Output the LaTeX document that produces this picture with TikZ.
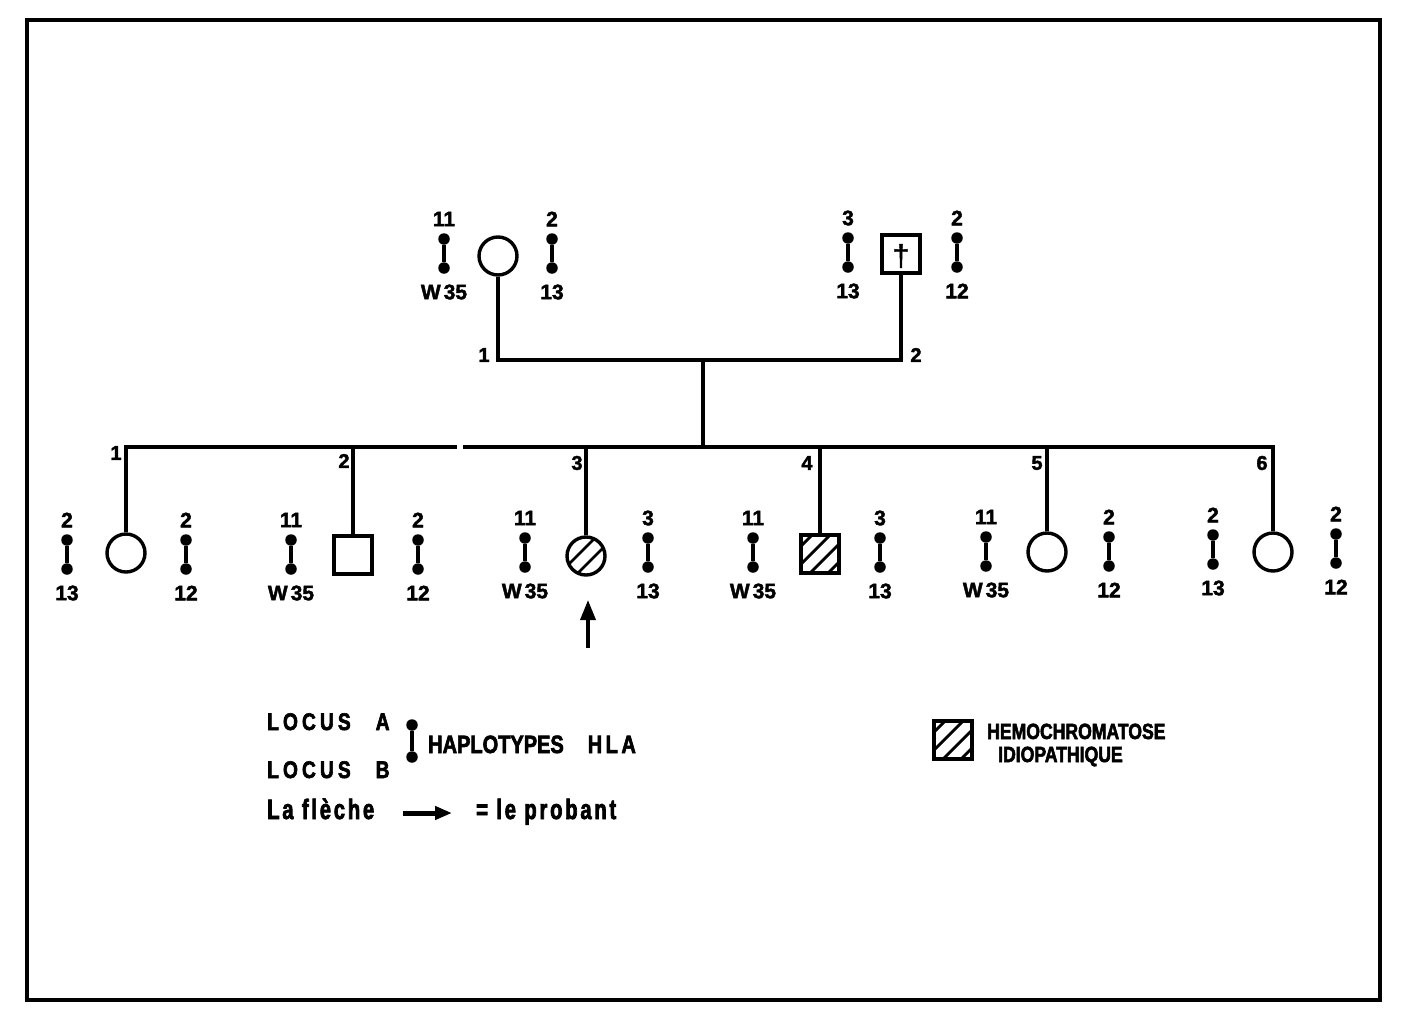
\documentclass[tikz,border=0pt]{standalone}
\usepackage{fontspec}
\setmainfont{Liberation Sans}
\newfontfamily\pedfont{Liberation Sans Bold}[FakeBold=2]
\newfontfamily\dagfont{Liberation Sans}[FakeBold=1.5]
\newfontfamily\legfont{Liberation Sans Bold}[FakeStretch=0.8,FakeBold=2.5]
\newfontfamily\lspfont{Liberation Sans Bold}[FakeStretch=0.8,LetterSpace=17,FakeBold=2.5]
\newfontfamily\hlafont{Liberation Sans Bold}[FakeStretch=0.8,LetterSpace=14,FakeBold=2.5]
\newfontfamily\lowfont{Liberation Sans Bold}[FakeStretch=0.72,LetterSpace=10,FakeBold=2.5]
\usetikzlibrary{arrows.meta}
\tikzset{
  ln/.style={line width=3.4pt},
  fem/.style={circle,draw,line width=3.4pt,minimum size=38pt,inner sep=0pt},
  mal/.style={rectangle,draw,line width=3.4pt,minimum size=38pt,inner sep=0pt},
  dot/.style={circle,fill,minimum size=11.5pt,inner sep=0pt},
  hl/.style={font=\pedfont\fontsize{21}{21}\selectfont,inner sep=0pt},
  gen/.style={font=\pedfont\fontsize{20}{20}\selectfont,inner sep=0pt},
  hatch/.style={path picture={
      \foreach \c in {-27,-9,9,27}
        \draw[line width=2.8pt] ([shift={(\c-40,40)}]path picture bounding box.center)
          -- ([shift={(\c+40,-40)}]path picture bounding box.center);}},
}
\newcommand\hap[5]{%
  \node[dot] (#1a) at (#2,#3) {};
  \node[dot] (#1b) at (#2,#3+29) {};
  \draw[line width=3.2pt] (#1a) -- (#1b);
  \node[hl] (#1t) at (#2,#3-20) {#4};
  \node[hl] (#1u) at (#2,#3+53) {#5};
}
\newcommand\wtf{W\kern3pt 35}
\begin{document}
\begin{tikzpicture}[x=1pt,y=-1pt]
\useasboundingbox (0,0) rectangle (1404,1020);
\draw[line width=4pt] (27,20) rectangle (1380,1000);

% generation I
\node[fem] (m) at (498,256) {};
\node[mal] (f) at (901,254) {};
\node[font=\dagfont\fontsize{30}{30}\selectfont,inner sep=0pt] (dag) at (901,256) {†};
\hap{ma}{444}{239}{11}{\wtf}
\hap{mb}{552}{239}{2}{13}
\hap{fa}{848}{238}{3}{13}
\hap{fb}{957}{238}{2}{12}
\coordinate (cp) at (703,360);
\draw[ln] (m.south) |- (cp) -| (f.south);
\node[gen] (g1) at (484,355) {1};
\node[gen] (g2) at (916,355) {2};

% generation II
\node[fem] (c1) at (126,553) {};
\node[mal] (c2) at (353,555) {};
\node[fem,hatch] (c3) at (586,556) {};
\node[mal,hatch] (c4) at (820,554) {};
\node[fem] (c5) at (1047,552) {};
\node[fem] (c6) at (1273,552) {};
\coordinate (sib) at (703,447);
\coordinate (gapL) at (457,447);
\coordinate (gapR) at (463,447);
\draw[ln] (cp) -- (sib);
\draw[ln] (c1.north) |- (gapL);
\draw[ln] (gapR) -| (c6.north);
\foreach \n in {c2,c3,c4,c5} \draw[ln] (\n.north) -- (\n.north |- sib);
\node[gen] (n1) at (116,453) {1};
\node[gen] (n2) at (344,461) {2};
\node[gen] (n3) at (577,463) {3};
\node[gen] (n4) at (807,463) {4};
\node[gen] (n5) at (1037,463) {5};
\node[gen] (n6) at (1262,463) {6};

\hap{h1a}{67}{540}{2}{13}
\hap{h1b}{186}{540}{2}{12}
\hap{h2a}{291}{540}{11}{\wtf}
\hap{h2b}{418}{540}{2}{12}
\hap{h3a}{525}{538}{11}{\wtf}
\hap{h3b}{648}{538}{3}{13}
\hap{h4a}{753}{538}{11}{\wtf}
\hap{h4b}{880}{538}{3}{13}
\hap{h5a}{986}{537}{11}{\wtf}
\hap{h5b}{1109}{537}{2}{12}
\hap{h6a}{1213}{535}{2}{13}
\hap{h6b}{1336}{534}{2}{12}

% proband arrow
\coordinate (pb) at (588,648);
\coordinate (pt) at (588,600);
\draw[line width=3.5pt,-{Triangle[length=20pt,width=15pt]}] (pb) -- (pt);

% legend
\node[font=\lspfont\fontsize{24}{24}\selectfont,inner sep=0pt,anchor=base west] (la) at (267,730) {LOCUS\hspace{25pt}A};
\node[font=\lspfont\fontsize{24}{24}\selectfont,inner sep=0pt,anchor=base west] (lb) at (267,778) {LOCUS\hspace{25pt}B};
\node[dot] (ld1) at (412,725) {};
\node[dot] (ld2) at (412,757) {};
\draw[line width=3.2pt] (ld1) -- (ld2);
\node[font=\legfont\fontsize{25}{25}\selectfont,inner sep=0pt,anchor=base west] (hla) at (428,753) {HAPLOTYPES\hspace{24pt}{\hlafont HLA}};
\node[font=\lowfont\fontsize{28}{28}\selectfont,inner sep=0pt,anchor=base west] (fl) at (267,819) {La flèche};
\coordinate (a1) at (403,813);
\coordinate (a2) at (452,813);
\draw[line width=5pt,-{Triangle[length=17pt,width=13pt]}] (a1) -- (a2);
\node[font=\lowfont\fontsize{28}{28}\selectfont,inner sep=0pt,anchor=base west] (pr) at (476,819) {= le probant};

\node[mal,hatch,minimum size=38pt] (lh) at (953,740) {};
\node[font=\legfont\fontsize{22}{22}\selectfont,inner sep=0pt,anchor=base west] (he) at (987,739) {HEMOCHROMATOSE};
\node[font=\legfont\fontsize{22}{22}\selectfont,inner sep=0pt,anchor=base west] (id) at (998,762) {IDIOPATHIQUE};
\end{tikzpicture}
\end{document}
